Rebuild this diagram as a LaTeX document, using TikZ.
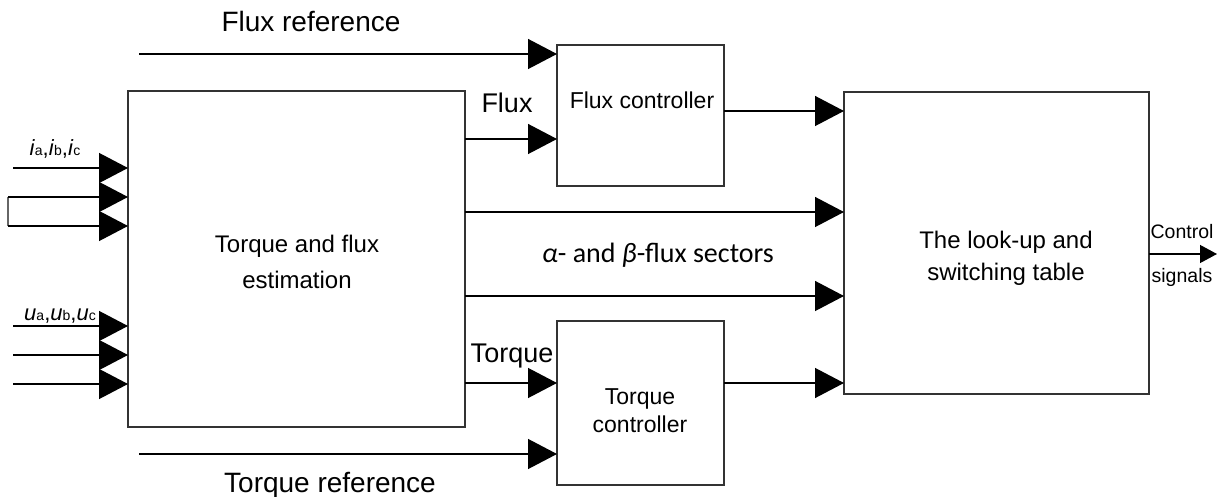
\documentclass[tikz,border=0pt]{standalone}
\usepackage{fontspec}
\setmainfont{Liberation Sans}
\newfontfamily\carl{Carlito}
\usetikzlibrary{arrows.meta}
\newcommand{\fs}[1]{\fontsize{#1}{#1}\selectfont}
\tikzset{
  blk/.style={draw=black!80, line width=1.3pt, anchor=north west, inner sep=0pt, outer sep=0pt},
  sig/.style={draw=black, line width=1.3pt, -{Triangle[length=29pt,width=30pt]}},
  smallsig/.style={draw=black, line width=1.3pt, -{Triangle[length=17pt,width=18pt]}},
  wire/.style={draw=black!60, line width=1.3pt},
  lbl/.style={inner sep=0pt, anchor=base},
  mlbl/.style={inner sep=0pt, align=center, anchor=center},
}
\begin{document}
\begin{tikzpicture}[x=1pt,y=-1pt]
\useasboundingbox (0,0) rectangle (1227,497);
% blocks
\node[blk, minimum width=337pt, minimum height=336pt] (est) at (128,91) {};
\node[blk, minimum width=167pt, minimum height=141pt] (fc) at (557,45) {};
\node[blk, minimum width=167pt, minimum height=164pt] (tc) at (557,321) {};
\node[blk, minimum width=305pt, minimum height=302pt] (lut) at (844,92) {};
% block texts
\node[mlbl, font=\fs{24}] (estt) at (297,262) {Torque and flux\\[12pt]estimation};
\node[lbl, font=\fs{23}] (fct) at (642,109) {Flux controller};
\node[mlbl, font=\fs{23}] (tct) at (640,411) {Torque\\[5pt]controller};
\node[mlbl, font=\fs{24}] (lutt) at (1006,258) {The look-up and\\[8pt]switching table};
% free ends
\coordinate (fref) at (139,54);
\coordinate (tref) at (139,454);
\coordinate (ia) at (13,168);
\coordinate (ib) at (8,197);
\coordinate (ic) at (8,226);
\coordinate (ua) at (13,326);
\coordinate (ub) at (13,355);
\coordinate (uc) at (13,384);
\coordinate (out) at (1217,254);
% inputs to estimation block
\draw[sig] (ia) -- (ia -| est.west);
\draw[wire] (ib) -- (ic);
\draw[sig] (ib) -- (ib -| est.west);
\draw[sig] (ic) -- (ic -| est.west);
\draw[sig] (ua) -- (ua -| est.west);
\draw[sig] (ub) -- (ub -| est.west);
\draw[sig] (uc) -- (uc -| est.west);
% references
\draw[sig] (fref) -- (fref -| fc.west);
\draw[sig] (tref) -- (tref -| tc.west);
% estimation outputs
\draw[sig] (est.east |- 0,139) -- (fc.west |- 0,139);
\draw[sig] (est.east |- 0,212) -- (lut.west |- 0,212);
\draw[sig] (est.east |- 0,296) -- (lut.west |- 0,296);
\draw[sig] (est.east |- 0,383) -- (tc.west |- 0,383);
% controllers to table
\draw[sig] (fc.east |- 0,111) -- (lut.west |- 0,111);
\draw[sig] (tc.east |- 0,383) -- (lut.west |- 0,383);
% output
\draw[smallsig] (lut.east |- out) -- (out);
% labels
\node[lbl, font=\fs{28}] (lfref) at (311,32) {Flux reference};
\node[lbl, font=\fs{28}] (ltref) at (330,492) {Torque reference};
\node[lbl, font=\fs{27}] (lflux) at (507,113) {Flux};
\node[lbl, font=\fs{27}] (ltorq) at (512,362) {Torque};
\node[lbl, font=\carl\fs{28}] (lsec) at (658,263) {\textit{α}- and \textit{β}-flux sectors};
\node[lbl, font=\fs{19.5}] (lctl) at (1182,239) {Control};
\node[lbl, font=\fs{19.5}] (lsig) at (1182,283) {signals};
\node[lbl, font=\fs{22}] (li) at (55,156) {\textit{i}{\fs{14}a},\textit{i}{\fs{14}b},\textit{i}{\fs{14}c}};
\node[lbl, font=\fs{22}] (lu) at (60,320) {\textit{u}{\fs{14}a},\textit{u}{\fs{14}b},\textit{u}{\fs{14}c}};
\end{tikzpicture}
\end{document}
